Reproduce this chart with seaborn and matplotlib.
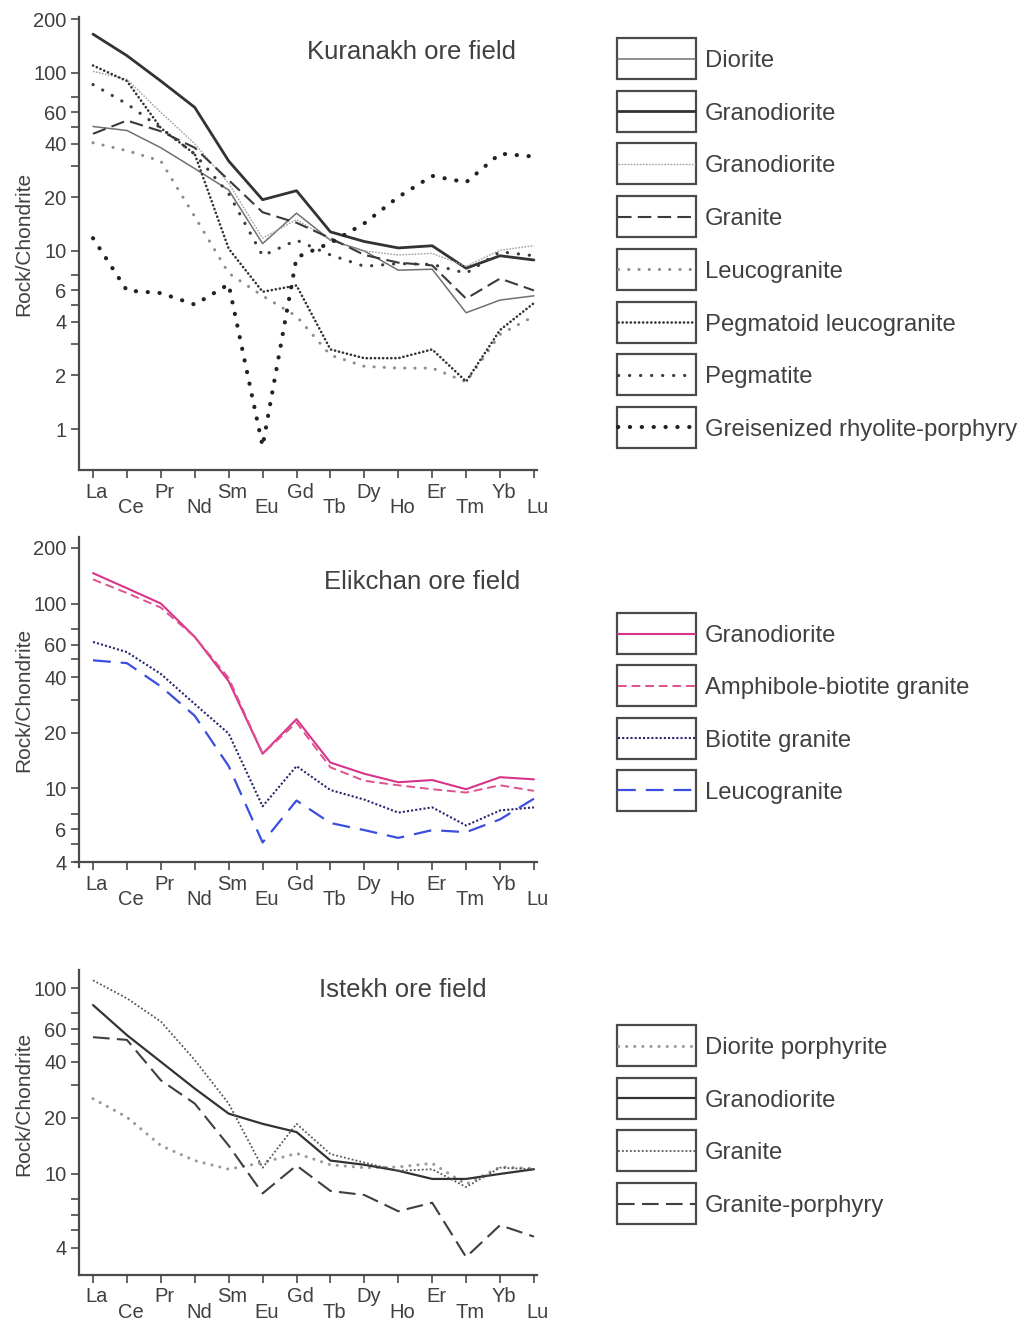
import matplotlib
matplotlib.use("Agg")
import matplotlib.pyplot as plt
import matplotlib.transforms as mtransforms
from matplotlib.patches import Rectangle
from matplotlib.lines import Line2D
from matplotlib.ticker import FixedLocator, NullFormatter, FixedFormatter
import numpy as np
import pandas as pd
import seaborn as sns

# ---------------------------------------------------------------- data
elements = ["La", "Ce", "Pr", "Nd", "Sm", "Eu", "Gd", "Tb", "Dy", "Ho", "Er", "Tm", "Yb", "Lu"]

# Kuranakh ore field (rock / chondrite)
kur_diorite = [50, 47.5, 38, 29, 22, 11, 16.3, 11.5, 10, 7.8, 7.9, 4.5, 5.3, 5.6]
kur_granodiorite = [165, 125, 90, 64, 32, 19.4, 21.8, 12.8, 11.3, 10.4, 10.7, 8.0, 9.4, 8.9]
kur_granodiorite2 = [102, 92, 60, 40, 24, 11.8, 15, 11.5, 10, 9.5, 9.7, 8.2, 10.1, 10.7]
kur_granite = [45.5, 54, 47, 38, 25, 16.5, 14.4, 11.8, 9.5, 8.6, 8.3, 5.4, 7.0, 6.0]
kur_leucogranite = [40.5, 36.6, 32, 15.6, 7.5, 5.6, 4.3, 2.6, 2.25, 2.2, 2.2, 1.84, 3.4, 4.3]
kur_pegmatoid = [110, 90, 49, 35, 10.3, 5.9, 6.4, 2.8, 2.5, 2.5, 2.8, 1.85, 3.6, 5.1]
kur_pegmatite = [86, 67, 49, 35, 21, 9.4, 11.5, 9.5, 8.2, 8.5, 8.4, 7.5, 9.9, 9.4]
kur_greisen = [11.8, 6.0, 5.8, 5.0, 6.5, 0.8, 9.2, 11.1, 14.3, 20.1, 26.4, 24.3, 35.2, 33.9]

# Elikchan ore field
eli_granodiorite = [146, 121, 100, 66, 38, 15.4, 23.7, 13.8, 12.0, 10.8, 11.1, 9.9, 11.5, 11.2]
eli_amph_bt_granite = [135, 114, 95, 66, 39.5, 15.4, 22.7, 13.0, 11.0, 10.4, 9.9, 9.5, 10.4, 9.7]
eli_bt_granite = [62, 54.6, 41.6, 28.6, 19.8, 8.0, 13.2, 9.8, 8.7, 7.4, 7.9, 6.3, 7.6, 7.9]
eli_leucogranite = [49.3, 47.6, 35.6, 24.7, 13.2, 5.1, 8.6, 6.5, 5.95, 5.4, 5.95, 5.8, 6.8, 8.8]

# Istekh ore field
ist_diorite_porph = [25.4, 20.2, 14.2, 11.8, 10.6, 11.5, 12.9, 11.2, 10.8, 10.9, 11.4, 8.8, 10.9, 10.7]
ist_granodiorite = [81, 55.8, 40.1, 28.8, 21.1, 18.6, 16.8, 11.8, 11.2, 10.4, 9.4, 9.4, 10.0, 10.6]
ist_granite = [110, 88, 66, 41, 23.9, 10.8, 18.6, 12.8, 11.5, 10.4, 10.6, 8.5, 10.8, 10.6]
ist_granite_porph = [54.4, 52.6, 31.9, 23.9, 14.2, 7.86, 11.1, 8.1, 7.7, 6.3, 7.0, 3.57, 5.3, 4.6]

# ---------------------------------------------------------------- styles
TEXT = "#404040"
AXC = "#4a4a4a"
FONT = ["Liberation Sans", "DejaVu Sans"]


def dots(color, lw, gap):
    return dict(color=color, lw=lw, ls=(0, (0.05, gap)), dash_capstyle="round")


st_thin = dict(color="#707070", lw=1.1, ls="-")
st_thick = dict(color="#333333", lw=2.0, ls="-")
st_fine_gray = dict(color="#a0a0a0", lw=1.0, ls=(0, (1.2, 1.0)))
st_dash = dict(color="#3a3a3a", lw=1.5, ls=(0, (6.5, 3.0)))
st_leuco = dots("#8c8c8c", 2.2, 3.3)
st_pegmatoid = dots("#333333", 1.9, 1.5)
st_pegmatite = dots("#3c3c3c", 2.3, 3.4)
st_greisen = dots("#222222", 3.0, 2.8)

st_pink = dict(color="#d8348c", lw=1.5, ls="-")
st_pink_dash = dict(color="#e0508f", lw=1.4, ls=(0, (4.5, 2.5)))
st_navy_dot = dict(color="#27276e", lw=1.5, ls=(0, (1.0, 1.0)))
st_blue_dash = dict(color="#3a4ee0", lw=1.6, ls=(0, (8, 4.5)))

st_ist_grano = dict(color="#333333", lw=1.6, ls="-")
st_ist_granite = dict(color="#555555", lw=1.3, ls=(0, (1.0, 1.2)))
st_ist_dp = dots("#9a9a9a", 2.2, 2.6)
st_ist_gp = dict(color="#3f3f3f", lw=1.5, ls=(0, (8, 3.5)))

kuranakh = [
    ("Diorite", kur_diorite, st_thin),
    ("Granodiorite", kur_granodiorite, st_thick),
    ("Granodiorite", kur_granodiorite2, st_fine_gray),
    ("Granite", kur_granite, st_dash),
    ("Leucogranite", kur_leucogranite, st_leuco),
    ("Pegmatoid leucogranite", kur_pegmatoid, st_pegmatoid),
    ("Pegmatite", kur_pegmatite, st_pegmatite),
    ("Greisenized rhyolite-porphyry", kur_greisen, st_greisen),
]
elikchan = [
    ("Granodiorite", eli_granodiorite, st_pink),
    ("Amphibole-biotite granite", eli_amph_bt_granite, st_pink_dash),
    ("Biotite granite", eli_bt_granite, st_navy_dot),
    ("Leucogranite", eli_leucogranite, st_blue_dash),
]
istekh = [
    ("Diorite porphyrite", ist_diorite_porph, st_ist_dp),
    ("Granodiorite", ist_granodiorite, st_ist_grano),
    ("Granite", ist_granite, st_ist_granite),
    ("Granite-porphyry", ist_granite_porph, st_ist_gp),
]

sns.set_style("ticks")
plt.rcParams["font.family"] = FONT
plt.rcParams["text.color"] = TEXT

W, H = 1031, 1320
fig = plt.figure(figsize=(W / 100, H / 100), dpi=100)


def px_axes(left, right, top, bottom):
    return fig.add_axes([left / W, 1 - bottom / H, (right - left) / W, (bottom - top) / H])


def draw_panel(ax, series, ylim, major, minor, title, title_xy, ylab_y=0.5):
    xs = np.arange(len(elements))
    for name, vals, st in series:
        df = pd.DataFrame({"x": xs, "y": vals})
        sns.lineplot(data=df, x="x", y="y", ax=ax, sort=False, color=st["color"],
                     lw=st["lw"], linestyle=st["ls"],
                     dash_capstyle=st.get("dash_capstyle", "butt"))
    ax.set_yscale("log")
    ax.set_ylim(*ylim)
    ax.set_xlim(-0.413, 13.09)
    ax.yaxis.set_major_locator(FixedLocator(major))
    ax.yaxis.set_major_formatter(FixedFormatter([f"{v:g}" for v in major]))
    ax.yaxis.set_minor_locator(FixedLocator(minor))
    ax.yaxis.set_minor_formatter(NullFormatter())
    ax.set_xticks(xs)
    ax.set_xticklabels(elements)
    ax.set_xlabel("")
    ax.set_ylabel("Rock/Chondrite", fontsize=15, color=TEXT, labelpad=4)
    ax.yaxis.set_label_coords(-0.100, ylab_y)
    for s in ("top", "right"):
        ax.spines[s].set_visible(False)
    for s in ("left", "bottom"):
        ax.spines[s].set_color(AXC)
        ax.spines[s].set_linewidth(1.6)
    ax.tick_params(axis="both", which="both", direction="out", length=6, width=1.2,
                   color=AXC, labelcolor=TEXT, labelsize=14.5)
    ax.tick_params(axis="y", which="major", pad=3)
    ax.tick_params(axis="x", pad=3)
    # staggered element labels
    shift = mtransforms.ScaledTranslation(4 / 100, 0, fig.dpi_scale_trans)
    for i, tick in enumerate(ax.xaxis.get_major_ticks()):
        if i % 2 == 1:
            tick.set_pad(14.5)
        tick.label1.set_transform(tick.label1.get_transform() + shift)
    ax.text(title_xy[0], title_xy[1], title, transform=ax.transAxes, fontsize=18.5,
            color=TEXT, ha="center", va="center")


ax1 = px_axes(79, 537, 17, 470)
draw_panel(ax1, kuranakh, (0.589, 206), [1, 2, 4, 6, 10, 20, 40, 60, 100, 200],
           [3, 5, 7.3, 30, 50, 73], "Kuranakh ore field", (0.727, 0.923))

ax2 = px_axes(79, 537, 537, 862)
draw_panel(ax2, elikchan, (4, 229), [4, 6, 10, 20, 40, 60, 100, 200],
           [5, 7.3, 30, 50, 73], "Elikchan ore field", (0.749, 0.862))
ax2.spines["left"].set_bounds(3.75, 229)
ax2.spines["bottom"].set_bounds(-0.53, 13.09)

ax3 = px_axes(79, 537, 970, 1275)
draw_panel(ax3, istekh, (2.86, 125), [4, 10, 20, 40, 60, 100],
           [5, 6, 7.3, 30, 50, 73], "Istekh ore field", (0.707, 0.934), ylab_y=0.56)

# ---------------------------------------------------------------- legends
lg = fig.add_axes([0, 0, 1, 1])
lg.set_xlim(0, W)
lg.set_ylim(H, 0)
lg.axis("off")


def draw_legend(series, top, step, box_h=41):
    for i, (name, vals, st) in enumerate(series):
        y0 = top + i * step
        lg.add_patch(Rectangle((617, y0), 79, box_h, fill=False, ec=AXC, lw=1.6))
        yc = y0 + box_h / 2
        lg.add_line(Line2D([618, 695], [yc, yc], color=st["color"], lw=st["lw"],
                           linestyle=st["ls"],
                           dash_capstyle=st.get("dash_capstyle", "butt")))
        lg.text(705, yc + 2.5, name, fontsize=17.2, color=TEXT, ha="left", va="center")


draw_legend(kuranakh, 38, 52.7)
draw_legend(elikchan, 613, 52.3)
draw_legend(istekh, 1025, 52.7)

fig.savefig("out.png", dpi=100, facecolor="white")
